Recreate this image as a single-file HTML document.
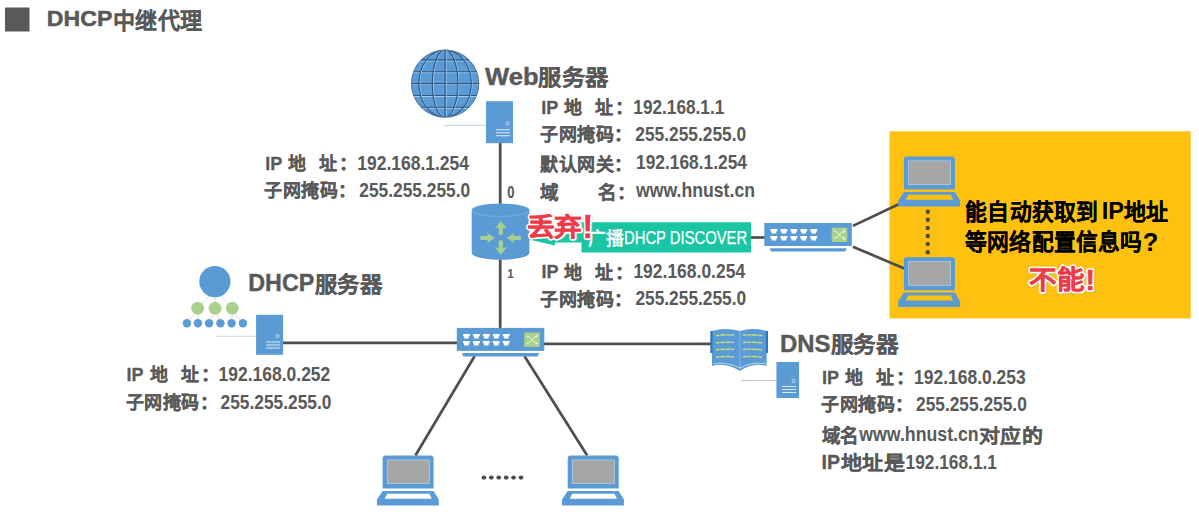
<!DOCTYPE html><html lang="zh-CN"><head><meta charset="utf-8"><style>html,body{margin:0;padding:0;background:#fff;width:1199px;height:529px;overflow:hidden}svg{display:block}</style></head><body>
<svg width="1199" height="529" viewBox="0 0 1199 529" font-family="'Liberation Sans', sans-serif">
<rect x="5" y="7.5" width="24.5" height="24" fill="#595959"/>
<text x="46.8" y="25.8" font-size="21.5" font-weight="bold" fill="#595959" textLength="65.5" lengthAdjust="spacingAndGlyphs" stroke="#595959" stroke-width="0.5">DHCP</text>
<text x="112.8" y="28.5" font-size="22.5" font-weight="bold" fill="#595959" textLength="90" lengthAdjust="spacingAndGlyphs" stroke="#595959" stroke-width="0.12">中继代理</text>
<rect x="889.5" y="131.3" width="301.2" height="187.1" fill="#FEC10F"/>
<line x1="500.2" y1="143" x2="500.2" y2="205" stroke="#4E4E4E" stroke-width="2.7"/>
<line x1="500.2" y1="258" x2="500.2" y2="329" stroke="#4E4E4E" stroke-width="2.7"/>
<line x1="283" y1="342.9" x2="458" y2="342.9" stroke="#4E4E4E" stroke-width="2.7"/>
<line x1="544" y1="343.8" x2="711" y2="343.8" stroke="#4E4E4E" stroke-width="2.7"/>
<line x1="474.7" y1="356" x2="415.4" y2="455.5" stroke="#4E4E4E" stroke-width="2.7"/>
<line x1="524.4" y1="356" x2="587.2" y2="455.5" stroke="#4E4E4E" stroke-width="2.7"/>
<line x1="751" y1="237.5" x2="765" y2="237.5" stroke="#4E4E4E" stroke-width="2.7"/>
<line x1="852.9" y1="225.9" x2="898.6" y2="204.2" stroke="#4E4E4E" stroke-width="2.7"/>
<line x1="852.9" y1="246.7" x2="904.3" y2="268.5" stroke="#4E4E4E" stroke-width="2.7"/>
<line x1="444" y1="125.4" x2="486" y2="125.4" stroke="#BDD7EE" stroke-width="1"/>
<line x1="216" y1="336.3" x2="256" y2="336.3" stroke="#D0D8E0" stroke-width="1"/>
<line x1="741" y1="380.5" x2="776.4" y2="380.5" stroke="#C8C8C8" stroke-width="1"/>
<defs><clipPath id="gclip"><circle cx="445.1" cy="83.6" r="33.7"/></clipPath></defs>
<circle cx="445.1" cy="83.6" r="33.7" fill="#5B9BD5" stroke="#2F5F8F" stroke-width="0.8"/>
<g clip-path="url(#gclip)" fill="none">
<line x1="411.40000000000003" y1="60.89999999999999" x2="478.8" y2="60.89999999999999" stroke="#BDD7EE" stroke-width="0.8"/>
<line x1="411.40000000000003" y1="59.89999999999999" x2="478.8" y2="59.89999999999999" stroke="#2B5783" stroke-width="1.1"/>
<line x1="411.40000000000003" y1="72.69999999999999" x2="478.8" y2="72.69999999999999" stroke="#BDD7EE" stroke-width="0.8"/>
<line x1="411.40000000000003" y1="71.69999999999999" x2="478.8" y2="71.69999999999999" stroke="#2B5783" stroke-width="1.1"/>
<line x1="411.40000000000003" y1="84.6" x2="478.8" y2="84.6" stroke="#BDD7EE" stroke-width="0.8"/>
<line x1="411.40000000000003" y1="83.6" x2="478.8" y2="83.6" stroke="#2B5783" stroke-width="1.1"/>
<line x1="411.40000000000003" y1="96.5" x2="478.8" y2="96.5" stroke="#BDD7EE" stroke-width="0.8"/>
<line x1="411.40000000000003" y1="95.5" x2="478.8" y2="95.5" stroke="#2B5783" stroke-width="1.1"/>
<line x1="411.40000000000003" y1="108.3" x2="478.8" y2="108.3" stroke="#BDD7EE" stroke-width="0.8"/>
<line x1="411.40000000000003" y1="107.3" x2="478.8" y2="107.3" stroke="#2B5783" stroke-width="1.1"/>
<ellipse cx="445.90000000000003" cy="83.6" rx="12.8" ry="33.7" stroke="#BDD7EE" stroke-width="0.8"/>
<ellipse cx="445.1" cy="83.6" rx="12.8" ry="33.7" stroke="#2B5783" stroke-width="1.1"/>
<ellipse cx="445.90000000000003" cy="83.6" rx="26.2" ry="33.7" stroke="#BDD7EE" stroke-width="0.8"/>
<ellipse cx="445.1" cy="83.6" rx="26.2" ry="33.7" stroke="#2B5783" stroke-width="1.1"/>
<line x1="446.1" y1="49.89999999999999" x2="446.1" y2="117.3" stroke="#BDD7EE" stroke-width="0.8"/>
<line x1="445.1" y1="49.89999999999999" x2="445.1" y2="117.3" stroke="#2B5783" stroke-width="1.1"/>
</g>
<rect x="486" y="101.2" width="27" height="42" fill="#5B9BD5"/>
<circle cx="507.5" cy="123.46000000000001" r="1.6" fill="none" stroke="#DDEBF7" stroke-width="0.8"/>
<line x1="496" y1="129.76" x2="510" y2="129.76" stroke="#DDEBF7" stroke-width="1"/>
<line x1="496" y1="132.76" x2="510" y2="132.76" stroke="#DDEBF7" stroke-width="1"/>
<line x1="496" y1="135.76" x2="510" y2="135.76" stroke="#DDEBF7" stroke-width="1"/>
<rect x="256.1" y="314.8" width="27" height="40" fill="#5B9BD5"/>
<circle cx="277.6" cy="336.0" r="1.6" fill="none" stroke="#DDEBF7" stroke-width="0.8"/>
<line x1="266.1" y1="342.0" x2="280.1" y2="342.0" stroke="#DDEBF7" stroke-width="1"/>
<line x1="266.1" y1="345.0" x2="280.1" y2="345.0" stroke="#DDEBF7" stroke-width="1"/>
<line x1="266.1" y1="348.0" x2="280.1" y2="348.0" stroke="#DDEBF7" stroke-width="1"/>
<rect x="776.4" y="362" width="22.7" height="36" fill="#5B9BD5"/>
<circle cx="793.6" cy="381.08" r="1.6" fill="none" stroke="#DDEBF7" stroke-width="0.8"/>
<line x1="782.1" y1="386.48" x2="796.1" y2="386.48" stroke="#DDEBF7" stroke-width="1"/>
<line x1="782.1" y1="389.48" x2="796.1" y2="389.48" stroke="#DDEBF7" stroke-width="1"/>
<line x1="782.1" y1="392.48" x2="796.1" y2="392.48" stroke="#DDEBF7" stroke-width="1"/>
<line x1="214.9" y1="290" x2="197.6" y2="308.2" stroke="#D9CFCF" stroke-width="0.8"/>
<line x1="214.9" y1="290" x2="215.1" y2="308.2" stroke="#D9CFCF" stroke-width="0.8"/>
<line x1="214.9" y1="290" x2="232.3" y2="308.2" stroke="#D9CFCF" stroke-width="0.8"/>
<line x1="197.6" y1="310" x2="186.9" y2="323.3" stroke="#D9CFCF" stroke-width="0.8"/>
<line x1="197.6" y1="310" x2="197.9" y2="323.3" stroke="#D9CFCF" stroke-width="0.8"/>
<line x1="215.1" y1="310" x2="209.1" y2="323.3" stroke="#D9CFCF" stroke-width="0.8"/>
<line x1="215.1" y1="310" x2="220.4" y2="323.3" stroke="#D9CFCF" stroke-width="0.8"/>
<line x1="232.3" y1="310" x2="231.6" y2="323.3" stroke="#D9CFCF" stroke-width="0.8"/>
<line x1="232.3" y1="310" x2="242.9" y2="323.3" stroke="#D9CFCF" stroke-width="0.8"/>
<circle cx="214.9" cy="281.6" r="15.6" fill="#5B9BD5"/>
<circle cx="197.6" cy="308.2" r="6.4" fill="#A9D18E"/>
<circle cx="215.1" cy="308.2" r="6.4" fill="#A9D18E"/>
<circle cx="232.3" cy="308.2" r="6.4" fill="#A9D18E"/>
<circle cx="186.9" cy="323.3" r="4.2" fill="#5B9BD5"/>
<circle cx="197.9" cy="323.3" r="4.2" fill="#5B9BD5"/>
<circle cx="209.1" cy="323.3" r="4.2" fill="#5B9BD5"/>
<circle cx="220.4" cy="323.3" r="4.2" fill="#5B9BD5"/>
<circle cx="231.6" cy="323.3" r="4.2" fill="#5B9BD5"/>
<circle cx="242.9" cy="323.3" r="4.2" fill="#5B9BD5"/>
<path d="M712 331 Q726 327 739.8 331 Q753 327 766.6 331 V366 Q753 362 739.8 371 Q726 362 712 366 Z" fill="#5B9BD5"/>
<rect x="710.3" y="331" width="2.2" height="22" fill="#2E75B6"/>
<rect x="766" y="331" width="2" height="22" fill="#2E75B6"/>
<line x1="739.8" y1="331" x2="739.8" y2="370" stroke="#9DC3E6" stroke-width="0.7"/>
<path d="M716 335.5 Q725 334.5 734 335.1" fill="none" stroke="#CADB7C" stroke-width="1.5" stroke-dasharray="3.5 0.8 5 0.8 4 0.6 6"/>
<path d="M743 335.1 Q752 334.5 762 335.5" fill="none" stroke="#CADB7C" stroke-width="1.5" stroke-dasharray="4 0.8 3 0.8 6 0.6 5"/>
<path d="M716 342.79999999999995 Q725 341.79999999999995 734 342.4" fill="none" stroke="#CADB7C" stroke-width="1.5" stroke-dasharray="3.5 0.8 5 0.8 4 0.6 6"/>
<path d="M743 342.4 Q752 341.79999999999995 762 342.79999999999995" fill="none" stroke="#CADB7C" stroke-width="1.5" stroke-dasharray="4 0.8 3 0.8 6 0.6 5"/>
<path d="M716 349.9 Q725 348.9 734 349.5" fill="none" stroke="#CADB7C" stroke-width="1.5" stroke-dasharray="3.5 0.8 5 0.8 4 0.6 6"/>
<path d="M743 349.5 Q752 348.9 762 349.9" fill="none" stroke="#CADB7C" stroke-width="1.5" stroke-dasharray="4 0.8 3 0.8 6 0.6 5"/>
<path d="M716 357.2 Q725 356.2 734 356.8" fill="none" stroke="#CADB7C" stroke-width="1.5" stroke-dasharray="3.5 0.8 5 0.8 4 0.6 6"/>
<path d="M743 356.8 Q752 356.2 762 357.2" fill="none" stroke="#CADB7C" stroke-width="1.5" stroke-dasharray="4 0.8 3 0.8 6 0.6 5"/>
<path d="M713 364 Q726 361 739.8 368 Q753 361 766 364" fill="none" stroke="#DDEBF7" stroke-width="0.7"/>
<rect x="456.8" y="327.9" width="87.5" height="23" fill="#5B9BD5"/>
<path d="M462.1 353.09999999999997 H539.2 L537.8 356.5 H463.3 Z" fill="#5B9BD5"/>
<path d="M463.00000000000006 333.9 H469.8 V336.29999999999995 H468.70000000000005 V338.5 H464.1 V336.29999999999995 H463.00000000000006 Z" fill="#fff"/>
<path d="M472.95000000000005 333.9 H479.75 V336.29999999999995 H478.65000000000003 V338.5 H474.05 V336.29999999999995 H472.95000000000005 Z" fill="#fff"/>
<path d="M482.90000000000003 333.9 H489.7 V336.29999999999995 H488.6 V338.5 H484.0 V336.29999999999995 H482.90000000000003 Z" fill="#fff"/>
<path d="M492.8500000000001 333.9 H499.65000000000003 V336.29999999999995 H498.55000000000007 V338.5 H493.95000000000005 V336.29999999999995 H492.8500000000001 Z" fill="#fff"/>
<path d="M502.80000000000007 333.9 H509.6 V336.29999999999995 H508.50000000000006 V338.5 H503.90000000000003 V336.29999999999995 H502.80000000000007 Z" fill="#fff"/>
<path d="M463.00000000000006 340.9 H469.8 V343.29999999999995 H468.70000000000005 V345.5 H464.1 V343.29999999999995 H463.00000000000006 Z" fill="#fff"/>
<path d="M472.95000000000005 340.9 H479.75 V343.29999999999995 H478.65000000000003 V345.5 H474.05 V343.29999999999995 H472.95000000000005 Z" fill="#fff"/>
<path d="M482.90000000000003 340.9 H489.7 V343.29999999999995 H488.6 V345.5 H484.0 V343.29999999999995 H482.90000000000003 Z" fill="#fff"/>
<path d="M492.8500000000001 340.9 H499.65000000000003 V343.29999999999995 H498.55000000000007 V345.5 H493.95000000000005 V343.29999999999995 H492.8500000000001 Z" fill="#fff"/>
<path d="M502.80000000000007 340.9 H509.6 V343.29999999999995 H508.50000000000006 V345.5 H503.90000000000003 V343.29999999999995 H502.80000000000007 Z" fill="#fff"/>
<rect x="524.2" y="332.5" width="15.6" height="14.4" fill="#A9D18E"/>
<path d="M526.4000000000001 336.1 C531.2 336.1 532.7 343.3 537.2 343.3 M526.4000000000001 343.3 C531.2 343.3 532.7 336.1 537.2 336.1" fill="none" stroke="#F2F8EE" stroke-width="0.9"/>
<path d="M535.4000000000001 334.7 L537.8000000000001 336.1 L535.4000000000001 337.5 M535.4000000000001 341.9 L537.8000000000001 343.3 L535.4000000000001 344.7" fill="none" stroke="#F2F8EE" stroke-width="0.8"/>
<rect x="764.3" y="223" width="87.5" height="23" fill="#5B9BD5"/>
<path d="M769.5999999999999 248.2 H846.6999999999999 L845.3 251.6 H770.8 Z" fill="#5B9BD5"/>
<path d="M770.5 229 H777.3 V231.4 H776.1999999999999 V233.6 H771.6 V231.4 H770.5 Z" fill="#fff"/>
<path d="M780.45 229 H787.25 V231.4 H786.15 V233.6 H781.5500000000001 V231.4 H780.45 Z" fill="#fff"/>
<path d="M790.4 229 H797.1999999999999 V231.4 H796.0999999999999 V233.6 H791.5 V231.4 H790.4 Z" fill="#fff"/>
<path d="M800.35 229 H807.15 V231.4 H806.05 V233.6 H801.45 V231.4 H800.35 Z" fill="#fff"/>
<path d="M810.3 229 H817.0999999999999 V231.4 H815.9999999999999 V233.6 H811.4 V231.4 H810.3 Z" fill="#fff"/>
<path d="M770.5 236 H777.3 V238.4 H776.1999999999999 V240.6 H771.6 V238.4 H770.5 Z" fill="#fff"/>
<path d="M780.45 236 H787.25 V238.4 H786.15 V240.6 H781.5500000000001 V238.4 H780.45 Z" fill="#fff"/>
<path d="M790.4 236 H797.1999999999999 V238.4 H796.0999999999999 V240.6 H791.5 V238.4 H790.4 Z" fill="#fff"/>
<path d="M800.35 236 H807.15 V238.4 H806.05 V240.6 H801.45 V238.4 H800.35 Z" fill="#fff"/>
<path d="M810.3 236 H817.0999999999999 V238.4 H815.9999999999999 V240.6 H811.4 V238.4 H810.3 Z" fill="#fff"/>
<rect x="831.6999999999999" y="227.6" width="15.6" height="14.4" fill="#A9D18E"/>
<path d="M833.9 231.2 C838.6999999999999 231.2 840.1999999999999 238.4 844.6999999999999 238.4 M833.9 238.4 C838.6999999999999 238.4 840.1999999999999 231.2 844.6999999999999 231.2" fill="none" stroke="#F2F8EE" stroke-width="0.9"/>
<path d="M842.9 229.79999999999998 L845.3 231.2 L842.9 232.6 M842.9 237.0 L845.3 238.4 L842.9 239.79999999999998" fill="none" stroke="#F2F8EE" stroke-width="0.8"/>
<path d="M471.7 210 V253 A28.85 6.8 0 0 0 529.4 253 V210 Z" fill="#5B9BD5"/>
<ellipse cx="500.55" cy="210" rx="28.85" ry="6.4" fill="#5B9BD5"/>
<path d="M471.7 210 A28.85 6.4 0 0 0 529.4 210" fill="none" stroke="#BDD7EE" stroke-width="0.7" stroke-dasharray="1.5 1.5"/>
<path d="M500.8 221.1 L506.9 229 L502.9 227.3 V234.8 H498.7 V227.3 L494.7 229 Z" fill="#A9D18E"/>
<path d="M500.8 254.8 L506.9 246.9 L502.9 248.6 V240.4 H498.7 V248.6 L494.7 246.9 Z" fill="#A9D18E"/>
<path d="M494.8 238 L486.6 232.6 L488.3 236.1 H480.5 V240 H488.3 L486.6 243.4 Z" fill="#A9D18E"/>
<path d="M506.7 238 L514.9 232.6 L513.2 236.1 H520.8 V240 H513.2 L514.9 243.4 Z" fill="#A9D18E"/>
<path d="M581.5 222.2 H751.1 V252.5 H581.5 V242.5 H555 V245.6 L528.8 239.5 L581.5 232 Z" fill="#19C5A2"/>
<path d="M382.6 488.6 V458.6 Q382.6 455.6 385.6 455.6 H430.6 Q433.6 455.6 433.6 458.6 V488.6 Z" fill="#5B9BD5"/>
<rect x="387.20000000000005" y="459.90000000000003" width="42.2" height="23.8" fill="#A6A6A6" stroke="#BDD7EE" stroke-width="0.6"/>
<path d="M382.6 490.90000000000003 H433.6 L438.8 499.6 V505.5 H376.90000000000003 V499.6 Z" fill="#5B9BD5"/>
<path d="M387.1 493.8 H429.40000000000003 L431.8 498.8 H384.6 Z" fill="#FFFFFF"/>
<path d="M567.7 488.6 V458.6 Q567.7 455.6 570.7 455.6 H615.7 Q618.7 455.6 618.7 458.6 V488.6 Z" fill="#5B9BD5"/>
<rect x="572.3000000000001" y="459.90000000000003" width="42.2" height="23.8" fill="#A6A6A6" stroke="#BDD7EE" stroke-width="0.6"/>
<path d="M567.7 490.90000000000003 H618.7 L623.9000000000001 499.6 V505.5 H562.0 V499.6 Z" fill="#5B9BD5"/>
<path d="M572.2 493.8 H614.5 L616.9000000000001 498.8 H569.7 Z" fill="#FFFFFF"/>
<path d="M903.9 189.6 V159.6 Q903.9 156.6 906.9 156.6 H951.9 Q954.9 156.6 954.9 159.6 V189.6 Z" fill="#5B9BD5"/>
<rect x="908.5" y="160.9" width="42.2" height="23.8" fill="#A6A6A6" stroke="#BDD7EE" stroke-width="0.6"/>
<path d="M903.9 191.89999999999998 H954.9 L960.1 200.6 V206.5 H898.1999999999999 V200.6 Z" fill="#5B9BD5"/>
<path d="M908.4 194.8 H950.6999999999999 L953.1 199.8 H905.9 Z" fill="#FEC10F"/>
<path d="M903.9 290.2 V260.2 Q903.9 257.2 906.9 257.2 H951.9 Q954.9 257.2 954.9 260.2 V290.2 Z" fill="#5B9BD5"/>
<rect x="908.5" y="261.5" width="42.2" height="23.8" fill="#A6A6A6" stroke="#BDD7EE" stroke-width="0.6"/>
<path d="M903.9 292.5 H954.9 L960.1 301.2 V307.09999999999997 H898.1999999999999 V301.2 Z" fill="#5B9BD5"/>
<path d="M908.4 295.4 H950.6999999999999 L953.1 300.4 H905.9 Z" fill="#FEC10F"/>
<ellipse cx="483.9" cy="477.6" rx="2.4" ry="2.1" fill="#4E4E4E"/>
<ellipse cx="491.32" cy="477.6" rx="2.4" ry="2.1" fill="#4E4E4E"/>
<ellipse cx="498.73999999999995" cy="477.6" rx="2.4" ry="2.1" fill="#4E4E4E"/>
<ellipse cx="506.15999999999997" cy="477.6" rx="2.4" ry="2.1" fill="#4E4E4E"/>
<ellipse cx="513.5799999999999" cy="477.6" rx="2.4" ry="2.1" fill="#4E4E4E"/>
<ellipse cx="521.0" cy="477.6" rx="2.4" ry="2.1" fill="#4E4E4E"/>
<circle cx="927.8" cy="211.7" r="2.2" fill="#4A4A55"/>
<circle cx="927.8" cy="219.79999999999998" r="2.2" fill="#4A4A55"/>
<circle cx="927.8" cy="227.89999999999998" r="2.2" fill="#4A4A55"/>
<circle cx="927.8" cy="236.0" r="2.2" fill="#4A4A55"/>
<circle cx="927.8" cy="244.1" r="2.2" fill="#4A4A55"/>
<circle cx="927.8" cy="252.2" r="2.2" fill="#4A4A55"/>
<text x="485.1" y="84.5" font-size="23" font-weight="bold" fill="#595959" textLength="53.5" lengthAdjust="spacingAndGlyphs" stroke="#595959" stroke-width="0.4">Web</text>
<text x="538.2" y="85.1" font-size="21.8" font-weight="bold" fill="#595959" textLength="70.5" lengthAdjust="spacingAndGlyphs" stroke="#595959" stroke-width="0.12">服务器</text>
<text x="248.3" y="291" font-size="23" font-weight="bold" fill="#595959" textLength="66" lengthAdjust="spacingAndGlyphs" stroke="#595959" stroke-width="0.4">DHCP</text>
<text x="314.5" y="291.7" font-size="21.8" font-weight="bold" fill="#595959" textLength="67.8" lengthAdjust="spacingAndGlyphs" stroke="#595959" stroke-width="0.12">服务器</text>
<text x="780" y="351.5" font-size="23" font-weight="bold" fill="#595959" textLength="50.5" lengthAdjust="spacingAndGlyphs" stroke="#595959" stroke-width="0.4">DNS</text>
<text x="830.5" y="351.9" font-size="21.8" font-weight="bold" fill="#595959" textLength="68.5" lengthAdjust="spacingAndGlyphs" stroke="#595959" stroke-width="0.12">服务器</text>
<text x="265.3" y="170" font-size="19" font-weight="bold" fill="#595959" textLength="17" lengthAdjust="spacingAndGlyphs" stroke="#595959" stroke-width="0.3">IP</text>
<text x="288.3" y="170.2" font-size="18.5" font-weight="bold" fill="#595959" textLength="18.5" lengthAdjust="spacingAndGlyphs" stroke="#595959" stroke-width="0.12">地</text>
<text x="319.3" y="170.2" font-size="18.5" font-weight="bold" fill="#595959" textLength="18.5" lengthAdjust="spacingAndGlyphs" stroke="#595959" stroke-width="0.12">址</text>
<text x="339.3" y="170.2" font-size="18.5" font-weight="bold" fill="#595959" stroke="#595959" stroke-width="0.12">：</text>
<text x="357.3" y="170" font-size="19.5" font-weight="bold" fill="#595959" textLength="111.7" lengthAdjust="spacingAndGlyphs" >192.168.1.254</text>
<text x="264.3" y="196.89999999999998" font-size="18.5" font-weight="bold" fill="#595959" textLength="92.5" lengthAdjust="spacingAndGlyphs" stroke="#595959" stroke-width="0.12">子网掩码：</text>
<text x="359.3" y="196.5" font-size="19.5" font-weight="bold" fill="#595959" textLength="110.8" lengthAdjust="spacingAndGlyphs" >255.255.255.0</text>
<text x="541.3" y="113.5" font-size="19" font-weight="bold" fill="#595959" textLength="17" lengthAdjust="spacingAndGlyphs" stroke="#595959" stroke-width="0.3">IP</text>
<text x="564.3" y="113.7" font-size="18.5" font-weight="bold" fill="#595959" textLength="18.5" lengthAdjust="spacingAndGlyphs" stroke="#595959" stroke-width="0.12">地</text>
<text x="595.3" y="113.7" font-size="18.5" font-weight="bold" fill="#595959" textLength="18.5" lengthAdjust="spacingAndGlyphs" stroke="#595959" stroke-width="0.12">址</text>
<text x="615.3" y="113.7" font-size="18.5" font-weight="bold" fill="#595959" stroke="#595959" stroke-width="0.12">：</text>
<text x="633.3" y="113.5" font-size="19.5" font-weight="bold" fill="#595959" textLength="91" lengthAdjust="spacingAndGlyphs" >192.168.1.1</text>
<text x="540.3" y="141.2" font-size="18.5" font-weight="bold" fill="#595959" textLength="92.5" lengthAdjust="spacingAndGlyphs" stroke="#595959" stroke-width="0.12">子网掩码：</text>
<text x="635.3" y="140.8" font-size="19.5" font-weight="bold" fill="#595959" textLength="110.8" lengthAdjust="spacingAndGlyphs" >255.255.255.0</text>
<text x="540.4" y="170.5" font-size="18.5" font-weight="bold" fill="#595959" textLength="92.5" lengthAdjust="spacingAndGlyphs" stroke="#595959" stroke-width="0.12">默认网关：</text>
<text x="636" y="169" font-size="19.5" font-weight="bold" fill="#595959" textLength="111" lengthAdjust="spacingAndGlyphs" >192.168.1.254</text>
<text x="540.4" y="198.5" font-size="18.5" font-weight="bold" fill="#595959" stroke="#595959" stroke-width="0.12">域</text>
<text x="598" y="198.5" font-size="18.5" font-weight="bold" fill="#595959" stroke="#595959" stroke-width="0.12">名：</text>
<text x="636" y="197" font-size="19.5" font-weight="bold" fill="#595959" textLength="119" lengthAdjust="spacingAndGlyphs" >www.hnust.cn</text>
<text x="541.4" y="278.3" font-size="19" font-weight="bold" fill="#595959" textLength="17" lengthAdjust="spacingAndGlyphs" stroke="#595959" stroke-width="0.3">IP</text>
<text x="564.4" y="278.5" font-size="18.5" font-weight="bold" fill="#595959" textLength="18.5" lengthAdjust="spacingAndGlyphs" stroke="#595959" stroke-width="0.12">地</text>
<text x="595.4" y="278.5" font-size="18.5" font-weight="bold" fill="#595959" textLength="18.5" lengthAdjust="spacingAndGlyphs" stroke="#595959" stroke-width="0.12">址</text>
<text x="615.4" y="278.5" font-size="18.5" font-weight="bold" fill="#595959" stroke="#595959" stroke-width="0.12">：</text>
<text x="633.4" y="278.3" font-size="19.5" font-weight="bold" fill="#595959" textLength="111.7" lengthAdjust="spacingAndGlyphs" >192.168.0.254</text>
<text x="540.4" y="305.7" font-size="18.5" font-weight="bold" fill="#595959" textLength="92.5" lengthAdjust="spacingAndGlyphs" stroke="#595959" stroke-width="0.12">子网掩码：</text>
<text x="635.4" y="305.3" font-size="19.5" font-weight="bold" fill="#595959" textLength="110.8" lengthAdjust="spacingAndGlyphs" >255.255.255.0</text>
<text x="126.6" y="381.2" font-size="19" font-weight="bold" fill="#595959" textLength="17" lengthAdjust="spacingAndGlyphs" stroke="#595959" stroke-width="0.3">IP</text>
<text x="149.6" y="381.4" font-size="18.5" font-weight="bold" fill="#595959" textLength="18.5" lengthAdjust="spacingAndGlyphs" stroke="#595959" stroke-width="0.12">地</text>
<text x="180.6" y="381.4" font-size="18.5" font-weight="bold" fill="#595959" textLength="18.5" lengthAdjust="spacingAndGlyphs" stroke="#595959" stroke-width="0.12">址</text>
<text x="200.6" y="381.4" font-size="18.5" font-weight="bold" fill="#595959" stroke="#595959" stroke-width="0.12">：</text>
<text x="218.6" y="381.2" font-size="19.5" font-weight="bold" fill="#595959" textLength="111.7" lengthAdjust="spacingAndGlyphs" >192.168.0.252</text>
<text x="125.6" y="409.2" font-size="18.5" font-weight="bold" fill="#595959" textLength="92.5" lengthAdjust="spacingAndGlyphs" stroke="#595959" stroke-width="0.12">子网掩码：</text>
<text x="220.6" y="408.8" font-size="19.5" font-weight="bold" fill="#595959" textLength="110.8" lengthAdjust="spacingAndGlyphs" >255.255.255.0</text>
<text x="822" y="383.9" font-size="19" font-weight="bold" fill="#595959" textLength="17" lengthAdjust="spacingAndGlyphs" stroke="#595959" stroke-width="0.3">IP</text>
<text x="845" y="384.09999999999997" font-size="18.5" font-weight="bold" fill="#595959" textLength="18.5" lengthAdjust="spacingAndGlyphs" stroke="#595959" stroke-width="0.12">地</text>
<text x="876" y="384.09999999999997" font-size="18.5" font-weight="bold" fill="#595959" textLength="18.5" lengthAdjust="spacingAndGlyphs" stroke="#595959" stroke-width="0.12">址</text>
<text x="896" y="384.09999999999997" font-size="18.5" font-weight="bold" fill="#595959" stroke="#595959" stroke-width="0.12">：</text>
<text x="914" y="383.9" font-size="19.5" font-weight="bold" fill="#595959" textLength="111.7" lengthAdjust="spacingAndGlyphs" >192.168.0.253</text>
<text x="821" y="411.4" font-size="18.5" font-weight="bold" fill="#595959" textLength="92.5" lengthAdjust="spacingAndGlyphs" stroke="#595959" stroke-width="0.12">子网掩码：</text>
<text x="916" y="411.0" font-size="19.5" font-weight="bold" fill="#595959" textLength="110.8" lengthAdjust="spacingAndGlyphs" >255.255.255.0</text>
<text x="821.8" y="442.8" font-size="18.8" font-weight="bold" fill="#595959" textLength="37.4" lengthAdjust="spacingAndGlyphs" stroke="#595959" stroke-width="0.12">域名</text>
<text x="859.2" y="441" font-size="19.5" font-weight="bold" fill="#595959" textLength="119.5" lengthAdjust="spacingAndGlyphs" >www.hnust.cn</text>
<text x="978.8" y="442.8" font-size="19.5" font-weight="bold" fill="#595959" textLength="64.5" lengthAdjust="spacingAndGlyphs" stroke="#595959" stroke-width="0.12">对应的</text>
<text x="821.5" y="468.8" font-size="20.5" font-weight="bold" fill="#595959" textLength="18.5" lengthAdjust="spacingAndGlyphs" stroke="#595959" stroke-width="0.35">IP</text>
<text x="840.5" y="469.6" font-size="19.5" font-weight="bold" fill="#595959" textLength="65" lengthAdjust="spacingAndGlyphs" stroke="#595959" stroke-width="0.12">地址是</text>
<text x="905.5" y="468.8" font-size="20.3" font-weight="bold" fill="#595959" textLength="91.5" lengthAdjust="spacingAndGlyphs" >192.168.1.1</text>
<text x="507.2" y="198.2" font-size="16.5" font-weight="bold" fill="#595959" textLength="7.2" lengthAdjust="spacingAndGlyphs" stroke="#595959" stroke-width="0.2">0</text>
<text x="507.4" y="278" font-size="13.5" font-weight="bold" fill="#595959" textLength="6" lengthAdjust="spacingAndGlyphs" stroke="#595959" stroke-width="0.2">1</text>
<text x="587.5" y="245.2" font-size="18.5" font-weight="normal" fill="#fff" textLength="36.5" lengthAdjust="spacingAndGlyphs" stroke="#fff" stroke-width="0.6">广播</text>
<text x="624" y="244.2" font-size="18.3" font-weight="normal" fill="#fff" textLength="123.2" lengthAdjust="spacingAndGlyphs" stroke="#fff" stroke-width="0.25">DHCP DISCOVER</text>
<text x="526.8" y="235.6" font-size="25.3" font-weight="bold" fill="#fff" textLength="55" lengthAdjust="spacingAndGlyphs" stroke="#B0B0B0" stroke-width="4" stroke-linejoin="round" opacity="0.35" transform="translate(0.7,0.9)">丢弃</text>
<text x="582.2" y="238.3" font-size="34" font-weight="bold" fill="#fff" textLength="11" lengthAdjust="spacingAndGlyphs" stroke="#B0B0B0" stroke-width="4" stroke-linejoin="round" opacity="0.35" transform="translate(0.7,0.9)">!</text>
<text x="526.8" y="235.6" font-size="25.3" font-weight="bold" fill="#fff" textLength="55" lengthAdjust="spacingAndGlyphs" stroke="#fff" stroke-width="3.6" paint-order="stroke" stroke-linejoin="round">丢弃</text>
<text x="582.2" y="238.3" font-size="34" font-weight="bold" fill="#fff" textLength="11" lengthAdjust="spacingAndGlyphs" stroke="#fff" stroke-width="3.6" paint-order="stroke" stroke-linejoin="round">!</text>
<text x="526.8" y="235.6" font-size="25.3" font-weight="bold" fill="#EE3B47" textLength="55" lengthAdjust="spacingAndGlyphs" stroke="#EE3B47" stroke-width="0.3">丢弃</text>
<text x="582.2" y="238.3" font-size="34" font-weight="bold" fill="#EE3B47" textLength="11" lengthAdjust="spacingAndGlyphs" stroke="#EE3B47" stroke-width="0.3">!</text>
<text x="965" y="219.7" font-size="22.5" font-weight="bold" fill="#000" textLength="133.5" lengthAdjust="spacingAndGlyphs" stroke="#000" stroke-width="0.12">能自动获取到</text>
<text x="1101.8" y="219.3" font-size="24" font-weight="bold" fill="#000" textLength="22.3" lengthAdjust="spacingAndGlyphs" >IP</text>
<text x="1123.5" y="219.7" font-size="22.5" font-weight="bold" fill="#000" textLength="45" lengthAdjust="spacingAndGlyphs" stroke="#000" stroke-width="0.12">地址</text>
<text x="965" y="249.5" font-size="22.5" font-weight="bold" fill="#000" textLength="177.5" lengthAdjust="spacingAndGlyphs" stroke="#000" stroke-width="0.12">等网络配置信息吗</text>
<text x="1142.8" y="250.5" font-size="26.5" font-weight="bold" fill="#000" textLength="15.5" lengthAdjust="spacingAndGlyphs" >?</text>
<text x="1029" y="288.7" font-size="26" font-weight="bold" fill="#fff" textLength="55" lengthAdjust="spacingAndGlyphs" stroke="#B0B0B0" stroke-width="4" stroke-linejoin="round" opacity="0.35" transform="translate(0.7,0.9)">不能</text>
<text x="1085.3" y="290" font-size="30" font-weight="bold" fill="#fff" textLength="10" lengthAdjust="spacingAndGlyphs" stroke="#B0B0B0" stroke-width="4" stroke-linejoin="round" opacity="0.35" transform="translate(0.7,0.9)">!</text>
<text x="1029" y="288.7" font-size="26" font-weight="bold" fill="#fff" textLength="55" lengthAdjust="spacingAndGlyphs" stroke="#fff" stroke-width="3.6" paint-order="stroke" stroke-linejoin="round">不能</text>
<text x="1085.3" y="290" font-size="30" font-weight="bold" fill="#fff" textLength="10" lengthAdjust="spacingAndGlyphs" stroke="#fff" stroke-width="3.6" paint-order="stroke" stroke-linejoin="round">!</text>
<text x="1029" y="288.7" font-size="26" font-weight="bold" fill="#EE3B47" textLength="55" lengthAdjust="spacingAndGlyphs" stroke="#EE3B47" stroke-width="0.3">不能</text>
<text x="1085.3" y="290" font-size="30" font-weight="bold" fill="#EE3B47" textLength="10" lengthAdjust="spacingAndGlyphs" stroke="#EE3B47" stroke-width="0.3">!</text>
</svg></body></html>
